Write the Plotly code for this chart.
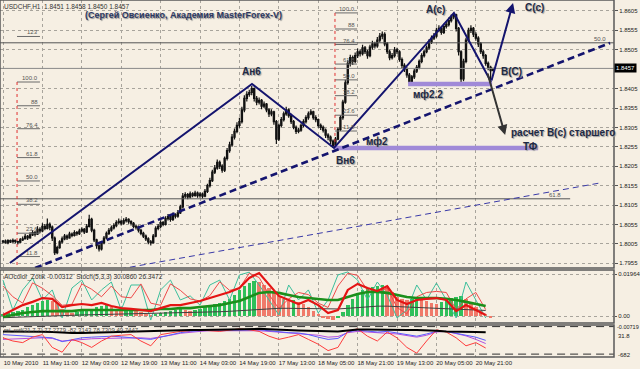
import plotly.graph_objects as go

# ---------------- price data: USDCHF H1, pips above 1.7900 ----------------
BASE = 1.7900
PIP = 0.0001

opens = [110,112,108,113,110,114,111,109,115,118,
         124,120,128,134,130,142,138,150,145,155,
         148,120,82,95,110,118,125,120,130,127,
         134,131,138,142,136,150,168,140,115,100,
         92,108,120,132,140,146,152,160,163,158,
         165,168,162,158,150,148,140,132,125,118,
         110,108,125,145,150,160,155,170,175,168,
         180,176,185,200,228,232,226,234,230,236,
         229,233,228,240,255,268,290,300,315,305,
         295,325,345,360,380,395,410,420,450,480,
         490,495,505,480,470,475,460,465,450,440,
         445,420,375,410,425,440,450,435,420,405,
         395,398,410,420,430,440,445,430,425,410,
         405,398,385,380,370,358,375,400,430,470,
         520,570,585,575,590,600,595,610,600,590,
         612,620,615,630,640,645,620,600,585,590,
         605,600,580,565,555,540,522,535,550,560,
         575,590,600,610,625,635,640,655,660,650,
         665,670,680,690,695,660,600,530,575,630,
         655,660,645,635,620,600,590,570,560,551]
highs = [115,116,117,116,119,116,113,120,124,130,
         128,135,140,138,150,148,158,156,170,160,
         152,124,100,114,124,130,129,136,134,140,
         138,144,148,146,156,180,172,144,118,104,
         112,125,137,146,152,158,166,170,168,171,
         174,171,166,161,155,152,144,136,129,122,
         115,130,150,156,166,164,176,182,179,186,
         184,192,206,236,238,236,240,238,242,240,
         238,237,246,260,275,296,308,322,320,310,
         330,352,368,388,402,418,430,458,488,498,
         502,512,508,486,482,478,472,468,455,452,
         448,424,415,432,446,458,454,440,424,410,
         404,415,426,436,446,452,448,436,428,415,
         410,402,390,384,374,380,405,436,476,528,
         578,592,590,598,608,606,618,615,605,618,
         628,626,638,648,652,650,625,606,597,612,
         610,604,585,570,560,545,540,556,566,580,
         596,606,616,632,642,648,662,668,665,672,
         678,688,696,700,698,664,604,582,636,662,
         668,664,650,640,625,605,594,575,564,558]
lows = [106,105,104,107,108,106,103,107,112,116,
        115,118,125,124,128,132,135,140,142,140,
        112,76,78,92,106,114,115,118,122,124,
        126,128,134,130,133,147,135,110,92,85,
        88,104,117,128,136,142,148,155,152,154,
        160,157,152,145,142,134,127,120,112,104,
        101,105,122,140,146,150,152,165,162,164,
        170,172,182,196,222,220,222,225,226,224,
        224,222,225,236,250,264,285,296,298,288,
        290,320,340,355,374,390,404,415,444,472,
        484,488,472,462,464,452,455,444,432,434,
        412,362,370,405,420,435,430,414,400,388,
        390,394,405,415,425,436,425,418,404,398,
        392,378,372,362,352,354,372,396,425,466,
        515,562,566,570,584,588,590,594,582,586,
        606,608,610,624,632,614,594,578,580,585,
        594,574,558,548,533,517,518,530,545,555,
        570,585,596,605,620,630,636,650,644,646,
        660,665,675,684,652,590,518,524,570,625,
        648,638,628,612,594,582,564,552,527,550]
closes = [112,108,113,110,114,111,109,115,118,124,
          120,128,134,130,142,138,150,145,155,148,
          120,82,95,110,118,125,120,130,127,134,
          131,138,142,136,150,168,140,115,100,92,
          108,120,132,140,146,152,160,163,158,165,
          168,162,158,150,148,140,132,125,118,110,
          108,125,145,150,160,155,170,175,168,180,
          176,185,200,228,232,226,234,230,236,229,
          233,228,240,255,268,290,300,315,305,295,
          325,345,360,380,395,410,420,450,480,490,
          495,505,480,470,475,460,465,450,440,445,
          420,375,410,425,440,450,435,420,405,395,
          398,410,420,430,440,445,430,425,410,405,
          398,385,380,370,358,375,400,430,470,520,
          570,585,575,590,600,595,610,600,590,612,
          620,615,630,640,645,620,600,585,590,605,
          600,580,565,555,540,522,535,550,560,575,
          590,600,610,625,635,640,655,660,650,665,
          670,680,690,695,660,600,530,575,630,655,
          660,645,635,620,600,590,570,560,551,557]

time_labels = ["10 May 2010", "11 May 11:00", "12 May 03:00", "12 May 19:00",
               "13 May 11:00", "14 May 03:00", "14 May 19:00", "17 May 13:00",
               "18 May 05:00", "18 May 21:00", "19 May 13:00", "20 May 05:00",
               "20 May 21:00"]
label_bars = [0, 16, 32, 48, 64, 80, 96, 112, 128, 144, 160, 176, 192]
price_ticks = [1.7955, 1.8005, 1.8055, 1.8105, 1.8155, 1.8205, 1.8255,
               1.8305, 1.8355, 1.8405, 1.8505, 1.8555, 1.8605]
last_price = 1.8457

# ---------------- indicator window 1 (units of 0.001) ----------------
ao = [1.0, 1.5, 2.0, 2.5, 3.0,
      4.0, 5.0, 6.0, 7.0, 7.5, 7.0, 6.0,
      3.5, 2.0, 1.5, 2.0,
      2.5, 3.0, 3.5, 4.0, 4.5,
      5.0, 4.0, 3.0, 2.5,
      3.0, 3.5, 3.0, 2.0,
      1.0, 0.5, 1.0, 1.5,
      2.0, 2.5, 3.0, 3.5, 3.0, 2.5, 3.0, 3.5,
      4.0, 5.0, 5.5, 6.0, 7.0, 8.0,
      10.0, 12.0, 14.0, 15.5, 16.5, 16.0,
      14.5, 13.0, 11.5, 9.5, 8.0, 7.0,
      7.5, 6.5, 5.5, 4.0, 2.5, 1.0,
      -0.5, -1.5, -2.0, -1.0,
      2.0, 5.0, 8.0, 10.5, 12.0, 13.0, 13.5, 14.0, 14.5, 14.0,
      11.0, 9.0, 8.0, 7.5, 8.0,
      9.0, 8.5, 7.0,
      6.0, 5.5,
      6.5, 7.5, 8.5, 9.0, 9.5,
      8.0, 6.0, 4.0,
      2.5, 1.0, -0.5]
ao_bars = list(range(0, 200, 2))

osc_bars = list(range(0, 200, 4))
ao_fast = [0.5, 2.8, 5.1, 6.6, 8.4, 8.0, 4.2, 5.1, 5.6, 5.1,
           6.1, 4.7, 3.7, 3.3, 2.8, 2.3, 3.7, 5.1, 5.1, 6.1,
           7.0, 8.4, 9.8, 11.2, 13.1, 17.8, 20.1, 14.5, 9.4, 7.5,
           5.6, 7.5, 5.1, 1.4, 2.8, 12.2, 15.0, 13.1, 11.7, 14.0,
           7.5, 5.6, 7.5, 8.0, 8.4, 7.5, 2.3, 5.1, 2.8, 0.5]
ao_slow = [-0.5, 0.5, 1.4, 1.9, 2.3, 2.3, 2.3, 2.3, 2.8, 2.8,
           2.8, 2.8, 2.8, 2.8, 2.8, 2.8, 3.3, 3.3, 3.7, 3.7,
           4.2, 4.7, 5.1, 6.1, 7.0, 8.9, 10.8, 11.2, 10.8, 9.8,
           8.9, 8.4, 8.0, 7.5, 7.5, 8.9, 10.3, 11.2, 11.2, 10.8,
           9.8, 8.9, 8.4, 8.4, 8.4, 8.0, 7.5, 6.6, 5.6, 4.7]
ao_base = [-0.8, -0.6, -0.4, -0.2, 0.0, 0.2, 0.3, 0.4, 0.5, 0.6,
           0.7, 0.8, 0.9, 1.0, 1.0, 1.0, 1.1, 1.2, 1.3, 1.4,
           1.6, 1.8, 2.0, 2.2, 2.5, 2.8, 3.2, 3.5, 3.6, 3.6,
           3.5, 3.4, 3.3, 3.2, 3.3, 3.6, 4.0, 4.4, 4.6, 4.6,
           4.4, 4.2, 4.0, 3.8, 3.6, 3.4, 3.2, 3.0, 2.8, 2.6]
stoch_main = [16.8, 2.8, 12.2, 17.8, 7.5, 12.2, -0.9, 13.1, 16.8, 7.5,
              12.2, 15.9, 2.8, 14.5, 14.5, -1.9, 12.2, 16.8, 7.5, 9.4,
              5.1, 14.5, 16.8, 7.5, 19.2, 20.5, 14.5, 7.5, 0.5, 14.5,
              7.5, 12.2, 1.4, 7.5, 19.2, 20.6, 16.8, 7.5, 15.9, 9.8,
              -0.9, 2.8, 14.5, 7.5, 15.4, 7.5, -0.9, 15.9, 7.5, -0.9]
stoch_signal = [14.0, 9.0, 6.0, 15.5, 13.0, 9.5, 5.0, 5.5, 15.0, 12.5,
                9.0, 14.0, 9.0, 8.5, 15.0, 6.0, 5.0, 15.0, 12.0, 8.0,
                7.0, 9.5, 16.0, 12.0, 13.0, 20.0, 18.0, 10.0, 3.5, 8.0,
                11.0, 10.0, 6.0, 4.0, 14.0, 20.0, 19.0, 12.0, 11.0, 13.0,
                4.0, 1.0, 9.0, 11.0, 11.5, 11.0, 3.0, 8.0, 11.0, 3.0]
w1_ticks = [0.01964, 0.0]
w1_ticktext = ["0.01964", "0.00"]

# ---------------- indicator window 2 (0-100) ----------------
osc_black = [80, 80, 81, 80, 79, 78, 76, 75, 75, 76,
             77, 78, 78, 79, 80, 80, 81, 82, 83, 84,
             84, 85, 85, 86, 87, 88, 88, 87, 85, 84,
             83, 82, 82, 81, 80, 83, 86, 86, 85, 85,
             85, 84, 84, 84, 82, 80, 80, 79, 78, 77]
osc_red = [60, 50, 45, 62, 70, 30, 15, 55, 45, 30,
           50, 65, 68, 70, 50, 35, 70, 75, 80, 82,
           85, 82, 80, 84, 88, 85, 80, 65, 55, 62,
           70, 55, 40, 20, 30, 80, 88, 65, 50, 78,
           60, 30, 12, 50, 85, 78, 60, 35, 45, 28]
osc_blue = [70, 68, 66, 65, 63, 60, 48, 55, 60, 62,
            64, 65, 63, 60, 57, 55, 62, 70, 76, 80,
            83, 85, 84, 84, 86, 86, 85, 82, 78, 76,
            75, 70, 62, 55, 58, 78, 84, 82, 78, 80,
            75, 70, 65, 72, 80, 80, 75, 68, 62, 52]
osc_purple = [55, 56, 58, 59, 60, 58, 50, 52, 55, 57,
              58, 59, 60, 60, 60, 58, 62, 68, 74, 78,
              80, 82, 82, 82, 83, 83, 82, 80, 78, 76,
              74, 72, 68, 62, 64, 76, 80, 78, 75, 74,
              72, 68, 62, 68, 78, 80, 74, 66, 55, 42]
w2_levels = [95, 9]

# ---------------- analyst drawings (bar index, price) ----------------
wave_x = [2.8, 101.1, 134.4, 183.1, 198.2]
wave_y = [1.79556, 1.84169, 1.82520, 1.86000, 1.84220]
trend_main = ([13.0, 246.5], [1.79427, 1.85225])
trend_long = ([47.5, 242.4], [1.79401, 1.81618])
mf2 = ([134.4, 217.3], 1.82520)
mf22 = ([164.5, 198.6], 1.84169)
arrow_c = ((198.2, 1.84220), (207.1, 1.86256))
arrow_calc = ((196.6, 1.84480), (203.9, 1.82855))
fib_levels = [100.0, 88.0, 76.4, 61.8, 50.0, 38.2, 23.6, 11.8]
fib_labels = ["100.0", "88", "76.4", "61.8", "50.0", "38.2", "23.6", "11.8"]
fib_left = dict(x0=5.7, x1=15.0, p0=1.7912, p100=1.8422)
fib_right = dict(x0=134.8, x1=143.8, p0=1.8255, p100=1.8600)
big_fib = [("50.0", 1.8523, 248.5), ("61.8", 1.8121, 230.3)]

# ---------------- figure ----------------
W, H = 640, 369
MT, MB, ML, MR = 0, 12, 0, 26
PH = H - MT - MB


def py(pix):
    return (PH - pix) / PH


BG = "#f6efe3"
NAVY = "#14146e"
GRID = "#a8a49c"
FONT = "Liberation Sans"

fig = go.Figure()

to_price = lambda arr: [BASE + v * PIP for v in arr]
bars = list(range(len(closes)))

fig.add_trace(go.Candlestick(
    x=bars, open=to_price(opens), high=to_price(highs), low=to_price(lows),
    close=to_price(closes), whiskerwidth=0,
    increasing=dict(line=dict(color="#111111", width=1.2), fillcolor="#ffffff"),
    decreasing=dict(line=dict(color="#111111", width=1.2), fillcolor="#111111"),
    showlegend=False, hoverinfo="skip", xaxis="x", yaxis="y"))


def line(x, y, color, width, dash="solid", xa="x", ya="y"):
    fig.add_trace(go.Scatter(x=x, y=y, mode="lines", xaxis=xa, yaxis=ya,
                             line=dict(color=color, width=width, dash=dash),
                             showlegend=False, hoverinfo="skip"))


# horizontal full-width lines
line([-2, 250], [last_price, last_price], "#8a8a8a", 1)
for lab, p, xend in big_fib:
    line([-2, xend], [p, p], "#555555", 1)

# fib ladders
for fb in (fib_left, fib_right):
    xs, ys = [], []
    for lv in fib_levels:
        p = fb["p0"] + (fb["p100"] - fb["p0"]) * lv / 100
        xs += [fb["x0"], fb["x1"], None]
        ys += [p, p, None]
    line(xs, ys, "#6a6a6a", 1)
    line([fb["x0"], fb["x0"]], [fb["p100"], fb["p0"]], "#e03030", 1, "dot")
p123 = fib_left["p0"] + (fib_left["p100"] - fib_left["p0"]) * 1.23
line([fib_left["x0"], fib_left["x1"]], [p123, p123], "#6a6a6a", 1)

# lavender support lines
line(mf2[0], [mf2[1], mf2[1]], "#a08ad8", 4.5)
line(mf22[0], [mf22[1], mf22[1]], "#a08ad8", 4.5)

# trend lines
line(trend_long[0], trend_long[1], "#3a3aa8", 1, "6px,4px")
line(trend_main[0], trend_main[1], NAVY, 2.6, "7px,4px")
line(wave_x, wave_y, NAVY, 2)

# ---- window 1
fig.add_trace(go.Bar(x=ao_bars, y=[v * 0.001 for v in ao],
                     marker=dict(color=["#2fbf5a" if (i == 0 or ao[i] >= ao[i - 1]) else "#f07a6a"
                                        for i in range(len(ao))], line=dict(width=0)),
                     width=1.4, xaxis="x2", yaxis="y2", showlegend=False, hoverinfo="skip"))
line(osc_bars, [v * 0.001 for v in stoch_main], "#3cbf9c", 1, xa="x2", ya="y2")
line(osc_bars, [v * 0.001 for v in stoch_signal], "#ee4a4a", 1, xa="x2", ya="y2")
line(osc_bars, [v * 0.001 for v in ao_base], "#404040", 1, xa="x2", ya="y2")
line(osc_bars, [v * 0.001 for v in ao_slow], "#1b8f1b", 2.6, xa="x2", ya="y2")
line(osc_bars, [v * 0.001 for v in ao_fast], "#e41414", 2.2, xa="x2", ya="y2")

# ---- window 2
for lv in w2_levels:
    line([-2, 250], [lv, lv], "#303030", 1, "8px,5px", xa="x3", ya="y3")
line(osc_bars, osc_purple, "#b54ee0", 1, xa="x3", ya="y3")
line(osc_bars, osc_blue, "#5a5aff", 1, xa="x3", ya="y3")
line(osc_bars, osc_red, "#ff3c3c", 1, xa="x3", ya="y3")
line(osc_bars, osc_black, "#000000", 2, xa="x3", ya="y3")

XR = [-1.22, 248.1]
grid = dict(showgrid=True, gridcolor=GRID, griddash="dot", gridwidth=1, zeroline=False,
            automargin=False)
tickfont = dict(family=FONT, size=6, color="#222222")

dom_main = [py(268), 1]
dom_w1 = [py(323), py(270)]
dom_w2 = [0, py(325)]

fig.update_layout(
    width=W, height=H, margin=dict(l=ML, r=MR, t=MT, b=MB),
    paper_bgcolor=BG, plot_bgcolor=BG, bargap=0, showlegend=False,
    xaxis=dict(domain=[0, 1], range=XR, anchor="y", tickvals=label_bars,
               showticklabels=False, ticks="", rangeslider=dict(visible=False), **grid),
    xaxis2=dict(domain=[0, 1], range=XR, anchor="y2", matches="x", tickvals=label_bars,
                showticklabels=False, ticks="", **grid),
    xaxis3=dict(domain=[0, 1], range=XR, anchor="y3", matches="x", tickvals=label_bars,
                ticktext=time_labels, showticklabels=True, ticks="", tickfont=tickfont,
                tickangle=0, ticklabelshift=18, ticklabelstandoff=1, **grid),
    yaxis=dict(domain=dom_main, range=[1.79427, 1.86333], side="right", tickvals=price_ticks,
               tickformat=".4f", tickfont=tickfont, ticks="outside", ticklen=3,
               tickcolor="#555555", **grid),
    yaxis2=dict(domain=dom_w1, range=[-0.00327, 0.02151], side="right", tickvals=w1_ticks,
                ticktext=w1_ticktext, tickfont=tickfont, ticks="outside", ticklen=2,
                tickcolor="#555555", **grid),
    yaxis3=dict(domain=dom_w2, range=[0, 100], side="right", tickvals=[],
                showgrid=False, zeroline=False, automargin=False),
)

# panel borders
for d in (dom_main, dom_w1, dom_w2):
    fig.add_shape(type="rect", xref="paper", yref="paper", x0=0, x1=1, y0=d[0], y1=d[1],
                  line=dict(color="#5a5a5a", width=1.5), fillcolor="rgba(0,0,0,0)")

ann = []
small = dict(family=FONT, size=6.5, color="#333333")
ann.append(dict(xref="paper", yref="paper", x=0.004, y=py(1), xanchor="left", yanchor="top",
                text="USDCHF,H1  1.8451 1.8458 1.8450 1.8457", showarrow=False, font=small))
ann.append(dict(xref="paper", yref="paper", x=0.004, y=py(271), xanchor="left", yanchor="top",
                text="AOcolor_Zotik -0.00312  Stoch(5,3,3) 30.0860 26.3472",
                showarrow=False, font=small))
ann.append(dict(xref="paper", yref="paper", x=0.004, y=py(325), xanchor="left", yanchor="top",
                text="rsi_mtf(21,7,7) 77.2779 -82.3143 78.7309 49.7447",
                showarrow=False, font=dict(family=FONT, size=6, color="#444444")))
ann.append(dict(xref="paper", yref="paper", x=1.002, y=py(322), xanchor="left", yanchor="top",
                text="-0.00719", showarrow=False, font=dict(family=FONT, size=5.5, color="#222222")))
ann.append(dict(xref="paper", yref="paper", x=1.004, y=py(336), xanchor="left", yanchor="middle",
                text="31.8", showarrow=False, font=tickfont))
ann.append(dict(xref="paper", yref="paper", x=1.004, y=py(355), xanchor="left", yanchor="middle",
                text="-682", showarrow=False, font=tickfont))
ann.append(dict(xref="paper", yref="y", x=1.0, y=last_price, xanchor="left", yanchor="middle",
                text="1.8457", showarrow=False, bgcolor="#000000",
                font=dict(family=FONT, size=6, color="#ffffff"), borderpad=1))

# title
ann.append(dict(xref="paper", yref="paper", x=183 / 614, y=py(15), xanchor="center",
                yanchor="middle", text="<b>(Сергей Овсиенко, Академия MasterForex-V)</b>",
                showarrow=False,
                font=dict(family=FONT, size=9, color="#2c3761", shadow="1px 1px 1px #8c8c8c")))

label_font = dict(family=FONT, size=10, color="#1f2a44", shadow="1px 1px 1px #9a9a9a")
texts = [("<b>Ан6</b>", 101.1, 1.8448), ("<b>Вн6</b>", 139.0, 1.8221),
         ("<b>A(c)</b>", 175.8, 1.8608), ("<b>C(c)</b>", 216.0, 1.8613),
         ("<b>B(C)</b>", 206.5, 1.8448), ("<b>мф2.2</b>", 172.6, 1.8391),
         ("<b>мф2</b>", 152.0, 1.8268), ("<b>расчет B(c) старшего</b>", 227.4, 1.8292),
         ("<b>ТФ</b>", 214.0, 1.8256)]
for t, x, y in texts:
    ann.append(dict(x=x, y=y, xref="x", yref="y", text=t, showarrow=False, font=label_font))

# fib labels
for fb in (fib_left, fib_right):
    for lab, lv in zip(fib_labels, fib_levels):
        p = fb["p0"] + (fb["p100"] - fb["p0"]) * lv / 100
        ann.append(dict(x=fb["x1"], y=p, xref="x", yref="y", text=lab, showarrow=False,
                        xanchor="right", yanchor="bottom", font=dict(family=FONT, size=6, color="#555555"),
                        yshift=-1))
ann.append(dict(x=fib_left["x1"], y=p123, xref="x", yref="y", text="123", showarrow=False,
                xanchor="right", yanchor="bottom", font=dict(family=FONT, size=6, color="#555555"),
                yshift=-1))
for lab, p, xend in big_fib:
    ann.append(dict(x=xend - 3, y=p, xref="x", yref="y", text=lab, showarrow=False,
                    xanchor="right", yanchor="bottom", font=dict(family=FONT, size=6, color="#555555"),
                    yshift=-1))

# arrows
for (s, e), col in ((arrow_c, NAVY), (arrow_calc, "#333333")):
    ann.append(dict(x=e[0], y=e[1], ax=s[0], ay=s[1], xref="x", yref="y", axref="x", ayref="y",
                    text="", showarrow=True, arrowhead=2, arrowsize=1, arrowwidth=2,
                    arrowcolor=col))

fig.update_layout(annotations=ann)
fig.write_html("out.html")
